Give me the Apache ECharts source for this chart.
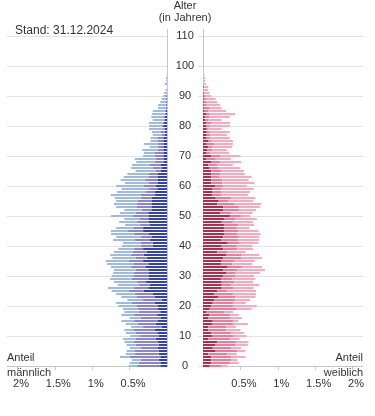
<!DOCTYPE html>
<html>
<head>
<meta charset="utf-8">
<script src="https://cdn.jsdelivr.net/npm/echarts@6/dist/echarts.min.js"></script>
<style>
html, body { margin: 0; padding: 0; background: #fff; }
#chart { width: 375px; height: 416px; }
</style>
</head>
<body>
<div id="chart"></div>
<script>
// Altersgruppen 0..110 (Kategorien der Altersachse)
const ages = []
for (let a = 0; a <= 110; a++) ages.push(String(a))

const tickLabels = [0.5, 1, 1.5, 2]

// Anteile in % je Altersjahr, ab Alter 0
const maleDark = [
    .09, .09, .11, .09, .11, .11, .12, .11, .12, .15,
    .11, .13, .16, .07, .15, .12, .08, .13, .09, .12,
    .12, .16, .07, .16, .19, .31, .25, .23, .28, .24,
    .25, .25, .25, .29, .25, .32, .27, .31, .27, .32,
    .19, .19, .23, .20, .24, .32, .32, .23, .25, .25,
    .25, .25, .21, .21, .21, .20, .20, .16, .16, .13,
    .15, .13, .13, .12, .12, .08, .07, .08, .04, .04,
    .05, .05, .05, .05, .04, .05, .05, .03, .03, .03,
    .05, .04, .03, .03, .02, .02, .01, .01, .01, .01,
    .01, 0, 0, 0, 0, 0, 0
]
const maleMid = [
    .31, .29, .24, .41, .32, .32, .23, .31, .33, .27,
    .25, .29, .29, .25, .24, .32, .27, .31, .29, .27,
    .29, .31, .25, .25, .24, .20, .19, .15, .12, .23,
    .20, .19, .17, .19, .20, .19, .15, .17, .19, .12,
    .16, .16, .20, .15, .20, .20, .13, .13, .15, .12,
    .21, .17, .13, .20, .19, .19, .15, .19, .12, .12,
    .16, .11, .16, .13, .12, .07, .12, .15, .12, .11,
    .11, .11, .07, .07, .08, .08, .08, .04, .05, .02,
    .02, .02, .01, .02, .01, .01, .01, 0, 0, 0,
    0, 0, .01, 0, .01, 0, .01
]
const maleLight = [
    .11, .12, .12, .13, .12, .11, .15, .12, .12, .17,
    .13, .13, .12, .16, .16, .17, .15, .17, .19, .20,
    .24, .21, .21, .20, .25, .23, .35, .28, .31, .29,
    .29, .28, .29, .27, .35, .31, .31, .28, .25, .21,
    .25, .24, .29, .33, .31, .23, .23, .20, .24, .20,
    .29, .21, .23, .27, .31, .29, .35, .40, .39, .36,
    .37, .32, .33, .33, .29, .27, .29, .24, .25, .28,
    .16, .15, .21, .11, .19, .09, .09, .12, .12, .19,
    .17, .18, .15, .16, .17, .16, .10, .11, .08, .06,
    .04, .04, .01, 0, .02, .01, 0
]
const femaleDark = [
    .09, .11, .11, .11, .07, .17, .13, .16, .19, .07,
    .12, .11, .07, .07, .12, .13, .07, .08, .04, .09,
    .11, .13, .15, .20, .15, .19, .25, .25, .25, .24,
    .27, .31, .27, .33, .24, .25, .27, .31, .19, .27,
    .25, .33, .24, .27, .29, .28, .28, .28, .25, .28,
    .36, .23, .27, .27, .19, .21, .17, .12, .13, .13,
    .16, .11, .11, .11, .11, .11, .08, .07, .11, .04,
    .11, .04, .06, .07, .05, .07, .04, .05, .05, .04,
    .04, .04, .03, .03, .04, .02, .01, .01, .01, .01,
    .01, .01, 0, .01, 0, 0, 0, 0
]
const femaleMid = [
    .16, .25, .27, .27, .25, .29, .25, .27, .25, .29,
    .29, .27, .24, .24, .29, .27, .29, .28, .24, .36,
    .29, .27, .28, .23, .25, .13, .16, .13, .17, .15,
    .16, .12, .19, .19, .15, .17, .24, .20, .13, .19,
    .20, .16, .23, .21, .17, .19, .17, .19, .15, .15,
    .15, .15, .21, .21, .23, .13, .21, .12, .11, .11,
    .11, .15, .15, .11, .12, .13, .13, .12, .12, .13,
    .12, .06, .06, .05, .10, .04, .05, .05, .04, .03,
    .05, .07, .04, .06, .05, .05, .07, .04, .03, .03,
    .02, .01, .01, .01, 0, 0, 0, 0
]
const femaleLight = [
    .08, .12, .08, .19, .13, .11, .13, .17, .17, .13,
    .17, .17, .19, .13, .19, .07, .16, .12, .12, .20,
    .32, .17, .20, .27, .31, .39, .27, .37, .25, .31,
    .25, .33, .37, .27, .27, .27, .28, .24, .25, .21,
    .21, .25, .28, .27, .31, .27, .17, .21, .27, .29,
    .12, .28, .23, .28, .36, .33, .32, .36, .39, .44,
    .32, .43, .35, .43, .33, .31, .29, .21, .28, .20,
    .27, .25, .20, .27, .25, .29, .27, .22, .27, .18,
    .27, .25, .18, .27, .34, .24, .17, .18, .15, .13,
    .08, .07, .06, .05, .04, .03, .03, .02
]

const font = '"Liberation Sans", Arial, sans-serif'
const textColor = '#333'
const gridColor = '#e3e3e3'
const axisColor = '#c8c8c8'

let myChart = echarts.init(document.getElementById('chart'), null, { renderer: 'canvas' })

function shareAxis(grid, inverse) {
    return {
        gridIndex: grid,
        type: 'value',
        inverse: inverse,
        min: 0,
        max: 2.14,
        interval: 0.5,
        axisLine: { show: true, lineStyle: { color: axisColor } },
        axisTick: { show: true, length: 4, customValues: tickLabels, lineStyle: { color: axisColor } },
        axisLabel: {
            customValues: tickLabels,
            formatter: v => (tickLabels.indexOf(v) >= 0 ? v + '%' : ''),
            margin: 12,
            padding: [0, 0, 0, 7],
            color: textColor,
            fontSize: 11,
            fontFamily: font
        },
        splitLine: { show: false }
    }
}

function ageAxis(grid, pos, labels) {
    return {
        gridIndex: grid,
        type: 'category',
        data: ages,
        boundaryGap: false,
        position: pos,
        axisLine: { show: true, lineStyle: { color: axisColor } },
        axisTick: { show: labels, interval: 9, length: 5, lineStyle: { color: gridColor } },
        axisLabel: {
            show: labels,
            interval: 9,
            align: 'center',
            margin: 18,
            color: textColor,
            fontSize: 11,
            fontFamily: font
        },
        splitLine: { show: true, interval: 9, lineStyle: { color: gridColor } }
    }
}

function bar(name, grid, stack, data, color) {
    return {
        name: name,
        type: 'bar',
        xAxisIndex: grid,
        yAxisIndex: grid,
        stack: stack,
        barWidth: 2,
        data: data,
        itemStyle: { color: color },
        silent: true
    }
}

function label(text, x, y, align) {
    return {
        type: 'text',
        x: x,
        y: y,
        style: {
            text: text,
            textAlign: align,
            textVerticalAlign: 'middle',
            fill: textColor,
            font: '11px ' + font
        }
    }
}

// kurze Verlängerung der beiden senkrechten Achsen über 110 hinaus
function stub(x) {
    return {
        type: 'line',
        shape: { x1: x, y1: 29, x2: x, y2: 36 },
        style: { stroke: axisColor, lineWidth: 1 }
    }
}

myChart.setOption({
    animation: false,
    grid: [
        { left: 7, right: 208, top: 36, bottom: 50 },
        { left: 203, right: 12, top: 36, bottom: 50 }
    ],
    xAxis: [shareAxis(0, true), shareAxis(1, false)],
    yAxis: [ageAxis(0, 'right', false), ageAxis(1, 'left', true)],
    series: [
        bar('männlich 1', 0, 'm', maleDark, '#3341b5'),
        bar('männlich 2', 0, 'm', maleMid, '#8a84d6'),
        bar('männlich 3', 0, 'm', maleLight, '#9eb9e2'),
        bar('weiblich 1', 1, 'w', femaleDark, '#b32d4b'),
        bar('weiblich 2', 1, 'w', femaleMid, '#f27a97'),
        bar('weiblich 3', 1, 'w', femaleLight, '#f9a9bd')
    ],
    graphic: [
        stub(167.5),
        stub(203.5),
        label('Alter', 185, 6, 'center'),
        label('(in Jahren)', 185, 18, 'center'),
        {
            type: 'text',
            x: 15,
            y: 31,
            style: {
                text: 'Stand: 31.12.2024',
                textAlign: 'left',
                textVerticalAlign: 'middle',
                fill: textColor,
                font: '12px ' + font
            }
        },
        label('Anteil', 7, 358, 'left'),
        label('männlich', 7, 373, 'left'),
        label('Anteil', 363, 358, 'right'),
        label('weiblich', 363, 373, 'right')
    ]
})
</script>
</body>
</html>
